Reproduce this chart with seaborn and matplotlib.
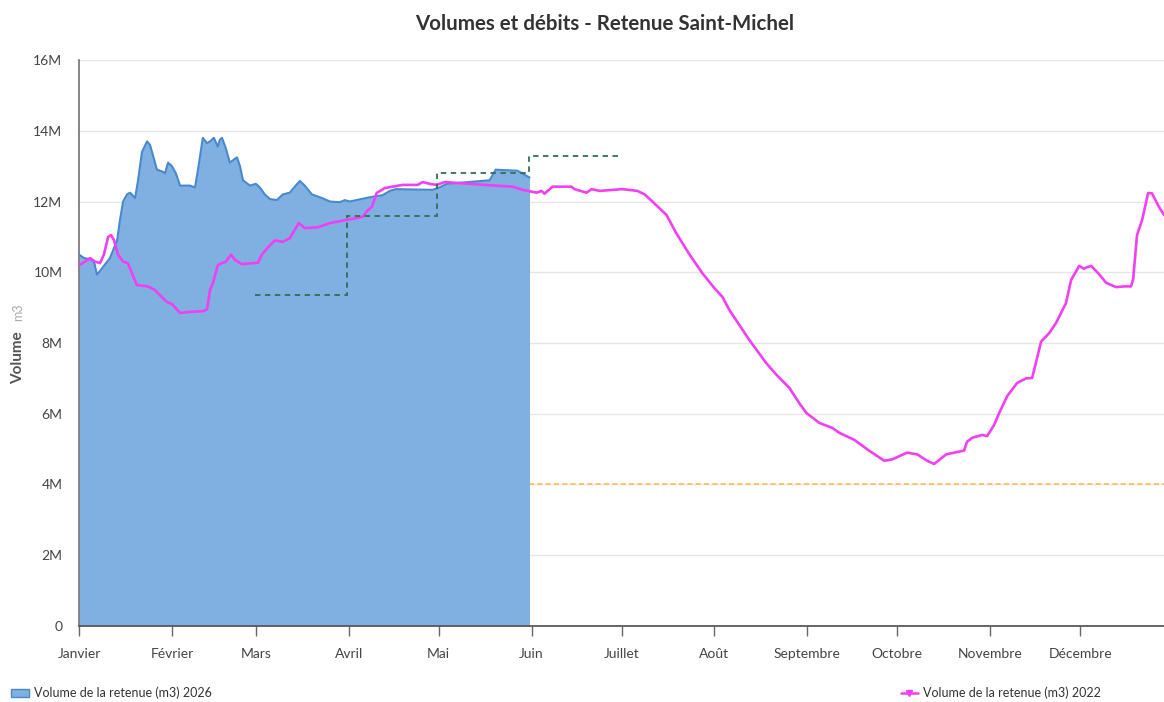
import numpy as np
import pandas as pd
import seaborn as sns
import matplotlib.pyplot as plt
from matplotlib.lines import Line2D
from matplotlib.patches import Patch

# Volume 2026 (jour de l'annee, millions de m3)
days_2026 = [0, 1.7, 3.7, 5, 6, 8, 10.3, 12.7, 13.7, 14.7, 16, 17, 18.7, 19.7, 21, 22.7,
             23.7, 25, 26, 27.7, 28.7, 29.7, 31, 32.3, 33.7, 35.7, 37, 38.7, 39.7, 41.3,
             42.7, 43.7, 45, 46.3, 47, 47.7, 49, 50.3, 52.7, 53.7, 54.7, 57, 59, 60.3, 62,
             63.7, 66, 68, 70.3, 72.3, 73.7, 75.3, 77.7, 81, 83.7, 87, 88.7, 90.3, 97,
             101.3, 103.7, 105.7, 118, 120.3, 122.7, 137, 139, 146.3, 147.7, 150.3]
vol_2026 = [10.5, 10.4, 10.37, 10.3, 9.93, 10.15, 10.4, 10.9, 11.5, 12.0, 12.2, 12.25, 12.1,
            12.6, 13.4, 13.7, 13.6, 13.2, 12.9, 12.85, 12.8, 13.1, 13.0, 12.8, 12.45, 12.45,
            12.45, 12.4, 12.9, 13.8, 13.65, 13.7, 13.8, 13.55, 13.75, 13.8, 13.5, 13.1,
            13.25, 13.0, 12.6, 12.45, 12.5, 12.4, 12.2, 12.07, 12.04, 12.2, 12.25, 12.45,
            12.58, 12.45, 12.2, 12.1, 12.0, 11.98, 12.04, 12.0, 12.12, 12.18, 12.3, 12.35,
            12.33, 12.4, 12.5, 12.6, 12.9, 12.87, 12.8, 12.68]

# Volume 2022
days_2022 = [0, 2, 3.7, 5.3, 7, 8.3, 9.7, 10.7, 11.7, 13, 14.7, 16.3, 18, 19.3, 23, 25.3,
             27, 29.3, 31, 33.7, 37, 41.3, 42.7, 43.7, 44.7, 46.3, 47.7, 49, 50.7, 52,
             54.3, 59.7, 61, 63, 65.3, 68, 70.3, 72, 73.3, 75.3, 79.7, 83.7, 89.3, 94.7,
             96.3, 97.7, 99.3, 102, 108, 113, 114.7, 117, 119.3, 122, 130.3, 138.7, 144.7,
             148, 152.7, 154.3, 155.3, 158, 164.3, 165.3, 169.3, 171, 173.7, 181.3, 186.3,
             188.7, 191.3, 196, 199.3, 203.7, 208, 212, 214.7, 217, 223.7, 229.3, 232.7,
             237, 240.3, 242.7, 247, 251.3, 253.7, 258.7, 263.7, 268.7, 271.3, 273.7,
             276.3, 279.7, 283, 285.3, 289.3, 293.7, 295.3, 296.3, 298, 301.3, 303, 305.3,
             307, 309.7, 313, 316, 318, 321, 323.7, 326, 329.3, 331, 333.7, 335.3, 336,
             337.7, 340.3, 342.7, 346, 348.7, 351, 351.7, 353, 354.7, 356.7, 358, 360.3, 362]
vol_2022 = [10.2, 10.3, 10.4, 10.3, 10.26, 10.5, 11.0, 11.05, 10.9, 10.5, 10.3, 10.26, 9.9,
            9.64, 9.6, 9.5, 9.35, 9.16, 9.1, 8.85, 8.88, 8.9, 8.95, 9.5, 9.7, 10.2, 10.26,
            10.3, 10.5, 10.35, 10.23, 10.27, 10.5, 10.7, 10.9, 10.86, 10.96, 11.2, 11.39,
            11.25, 11.27, 11.39, 11.48, 11.57, 11.75, 11.85, 12.24, 12.38, 12.47, 12.47,
            12.55, 12.5, 12.47, 12.55, 12.5, 12.45, 12.42, 12.33, 12.25, 12.3, 12.22, 12.42,
            12.42, 12.35, 12.25, 12.35, 12.3, 12.35, 12.3, 12.2, 12.0, 11.62, 11.1, 10.5,
            9.97, 9.55, 9.3, 8.93, 8.08, 7.43, 7.1, 6.73, 6.3, 6.02, 5.74, 5.6, 5.46, 5.26,
            4.95, 4.67, 4.71, 4.8, 4.9, 4.85, 4.67, 4.58, 4.85, 4.93, 4.96, 5.21, 5.32, 5.4,
            5.37, 5.68, 6.02, 6.5, 6.87, 7.0, 7.01, 8.04, 8.28, 8.57, 9.13, 9.78, 10.18,
            10.1, 10.13, 10.18, 9.95, 9.7, 9.58, 9.6, 9.6, 9.8, 11.05, 11.48, 12.24, 12.23,
            11.85, 11.62]

# Courbe d'objectif (paliers) et seuil minimal
step_edges = [58.7, 89.3, 119.3, 150.0, 180.3]
step_vals = [9.35, 11.6, 12.8, 13.3]
seuil_min = 4.0

month_starts = [0, 31, 59, 90, 120, 151, 181, 212, 243, 273, 304, 334]
month_names = ['Janvier', 'Février', 'Mars', 'Avril', 'Mai', 'Juin', 'Juillet',
               'Août', 'Septembre', 'Octobre', 'Novembre', 'Décembre']
y_ticks = [0, 2, 4, 6, 8, 10, 12, 14, 16]
y_labels = ['0', '2M', '4M', '6M', '8M', '10M', '12M', '14M', '16M']

df26 = pd.DataFrame({'jour': days_2026, 'volume': vol_2026})
df22 = pd.DataFrame({'jour': days_2022, 'volume': vol_2022})

sns.set_theme(style='white')
plt.rcParams['font.family'] = ['Lato', 'DejaVu Sans']

fig = plt.figure(figsize=(11.64, 7.02), dpi=100)
ax = fig.add_axes([0.0679, 0.1083, 0.9321, 0.8062])

ax.fill_between(df26['jour'], 0, df26['volume'], color='#7fb0e1', linewidth=0, zorder=2)
sns.lineplot(data=df26, x='jour', y='volume', color='#4a88cc', linewidth=1.5, ax=ax, zorder=3)
sns.lineplot(data=df22, x='jour', y='volume', color='#f23ff2', linewidth=1.9, ax=ax, zorder=4)
ax.stairs(step_vals, step_edges, baseline=None, color='#2f6f55', linestyle=(0, (3, 2.5)),
          linewidth=1.3, zorder=5)
ax.axhline(seuil_min, color='#f2c24a', linestyle=(0, (3, 2)), linewidth=1.2, zorder=1)

ax.set_xlim(0, 362)
ax.set_ylim(0, 16)
ax.set_yticks(y_ticks)
ax.set_yticklabels(y_labels)
ax.set_xticks(month_starts)
ax.set_xticklabels(month_names)
ax.grid(axis='y', color='#e6e6e6', linewidth=1)
ax.set_axisbelow(True)
ax.tick_params(axis='x', length=7, width=1, color='#666666', labelsize=10,
               labelcolor='#444444', pad=9, bottom=True, direction='out')
ax.tick_params(axis='y', length=0, labelsize=10, labelcolor='#444444', pad=12)
for s in ['top', 'right']:
    ax.spines[s].set_visible(False)
ax.spines['left'].set_color('#777777')
ax.spines['bottom'].set_color('#555555')
ax.set_xlabel('')
ax.set_ylabel('')

fig.text(0.0155, 0.49, 'Volume', rotation=90, fontsize=11, fontweight='bold',
         color='#555555', ha='center', va='center')
fig.text(0.0155, 0.556, 'm3', rotation=90, fontsize=9, color='#aaaaaa',
         ha='center', va='center')

fig.suptitle('Volumes et débits - Retenue Saint-Michel', x=0.519, y=0.98,
             fontsize=14.8, fontweight='bold', color='#333333')

leg1 = fig.legend(handles=[Patch(facecolor='#7fb0e1', edgecolor='#4a88cc')],
                  labels=['Volume de la retenue (m3) 2026'], loc='center left',
                  bbox_to_anchor=(0.0, 0.013), frameon=False, fontsize=9,
                  handlelength=1.4, handleheight=0.6, handletextpad=0.4, labelcolor='#333333')
leg2 = fig.legend(handles=[Line2D([], [], color='#f23ff2', marker='v', markersize=5, linewidth=1.8)],
                  labels=['Volume de la retenue (m3) 2022'], loc='center left',
                  bbox_to_anchor=(0.764, 0.013), frameon=False, fontsize=9,
                  handlelength=1.4, handletextpad=0.4, labelcolor='#333333')

plt.savefig('out.png', dpi=100)
